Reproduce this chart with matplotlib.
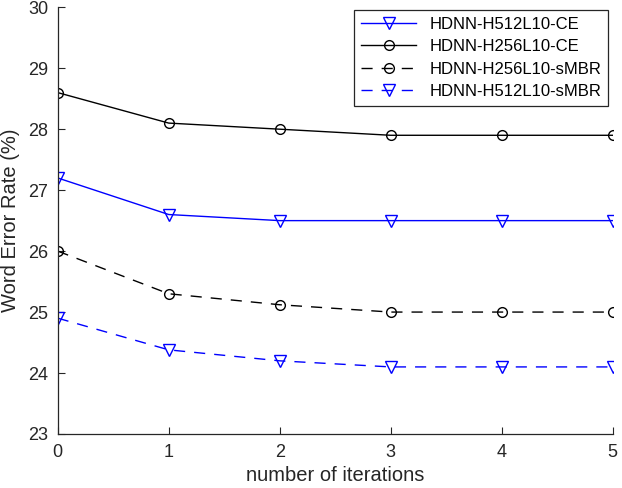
import matplotlib
matplotlib.use('Agg')
import matplotlib.pyplot as plt

plt.rcParams['font.family'] = ['Liberation Sans', 'DejaVu Sans']

iterations = [0, 1, 2, 3, 4, 5]
h512_ce = [27.2, 26.6, 26.5, 26.5, 26.5, 26.5]
h256_ce = [28.6, 28.1, 28.0, 27.9, 27.9, 27.9]
h256_smbr = [26.0, 25.3, 25.12, 25.0, 25.0, 25.0]
h512_smbr = [24.9, 24.38, 24.2, 24.1, 24.1, 24.1]

fig = plt.figure(figsize=(6.22, 4.88), dpi=100)
ax = fig.add_axes([0.0928, 0.1107, 0.8923, 0.8744])

dash = (0, (8, 6.5))
ax.plot(iterations, h512_ce, color='blue', lw=1, marker='v', ms=9,
        mfc='none', mec='blue', label='HDNN-H512L10-CE')
ax.plot(iterations, h256_ce, color='black', lw=1, marker='o', ms=7,
        mfc='none', mec='black', label='HDNN-H256L10-CE')
ax.plot(iterations, h256_smbr, color='black', lw=1, ls=dash, marker='o', ms=7,
        mfc='none', mec='black', label='HDNN-H256L10-sMBR')
ax.plot(iterations, h512_smbr, color='blue', lw=1, ls=dash, marker='v', ms=9,
        mfc='none', mec='blue', label='HDNN-H512L10-sMBR')

ax.set_xlim(0, 5)
ax.set_ylim(23, 30)
ax.set_xticks(range(0, 6))
ax.set_yticks(range(23, 31))
ax.tick_params(direction='in', labelsize=13, colors='#262626', length=5, pad=7)
ax.spines['top'].set_visible(False)
ax.spines['right'].set_visible(False)
for s in ['left', 'bottom']:
    ax.spines[s].set_color('#262626')
    ax.spines[s].set_linewidth(0.9)

ax.set_xlabel('number of iterations', fontsize=14.5, color='#262626', labelpad=4)
ax.set_ylabel('Word Error Rate (%)', fontsize=14.5, color='#262626', labelpad=6)

leg = ax.legend(loc='upper right', bbox_to_anchor=(608 / 622, 1 - 10 / 488),
                bbox_transform=fig.transFigure, borderaxespad=0,
                fontsize=12, fancybox=False, framealpha=1,
                edgecolor='#262626', handlelength=3.3, labelspacing=0.45)
leg.get_frame().set_linewidth(0.9)

fig.savefig('out.png', dpi=100)
